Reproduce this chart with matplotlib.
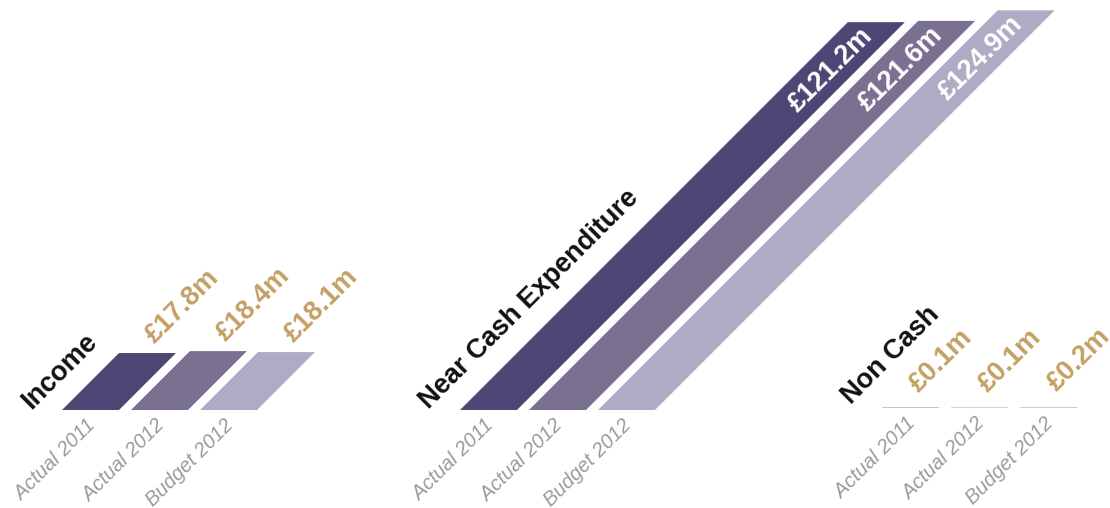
import numpy as np
import matplotlib.pyplot as plt
from matplotlib.patches import Polygon

plt.rcParams['font.family'] = ['Liberation Sans', 'DejaVu Sans']

# data (in £m)
groups = ["Income", "Near Cash Expenditure", "Non Cash"]
categories = ["Actual 2011", "Actual 2012", "Budget 2012"]
income = [17.8, 18.4, 18.1]
near_cash = [121.2, 121.6, 124.9]
non_cash = [0.1, 0.1, 0.2]
values = [income, near_cash, non_cash]

colors = ["#4f4675", "#7a7092", "#b0aac4"]
gold = "#c4a064"
grey = "#9a9a9a"

# layout in pixels (y up)
scale = 3.2          # px per £m
bases = [98, 98, 100]
bar_w = 57
step = 69
group_x = [62, 460, 882]

fig = plt.figure(figsize=(11.1, 5.08), dpi=100)
ax = fig.add_axes([0, 0, 1, 1])
ax.set_xlim(0, 1110)
ax.set_ylim(0, 508)
ax.axis("off")

for g, (name, vals) in enumerate(zip(groups, values)):
    gx = group_x[g]
    base = bases[g]
    ax.text(gx - 31, base + (3 if g == 2 else 0), name, rotation=45, rotation_mode="anchor",
            ha="left", va="baseline", fontsize=19.5, fontweight="bold", color="#111111")
    for i, v in enumerate(vals):
        x0 = gx + i * step
        h = v * scale
        pts = [(x0, base), (x0 + bar_w, base), (x0 + bar_w + h, base + h), (x0 + h, base + h)]
        ax.add_patch(Polygon(pts, closed=True, facecolor=colors[i], edgecolor="none"))
        cx = x0 + bar_w / 2
        tcx = cx + h
        top = base + h
        # category label under bar
        ax.text(cx - 5, base - 6, categories[i], rotation=45, rotation_mode="anchor",
                ha="right", va="top", fontsize=14.5, style="italic", color=grey)
        lab = "£%.1fm" % v
        if g == 1:
            ax.text(tcx - 8, top - 10, lab, rotation=45, rotation_mode="anchor",
                    ha="right", va="center", fontsize=19.5, fontweight="bold", color="white")
        elif g == 0:
            ax.text(tcx + 7, top + 9, lab, rotation=45, rotation_mode="anchor",
                    ha="left", va="baseline", fontsize=19.5, fontweight="bold", color=gold)
        else:
            ax.text(tcx + 8, top + 15, lab, rotation=45, rotation_mode="anchor",
                    ha="left", va="baseline", fontsize=19.5, fontweight="bold", color=gold)

fig.savefig("out.png", dpi=100)
